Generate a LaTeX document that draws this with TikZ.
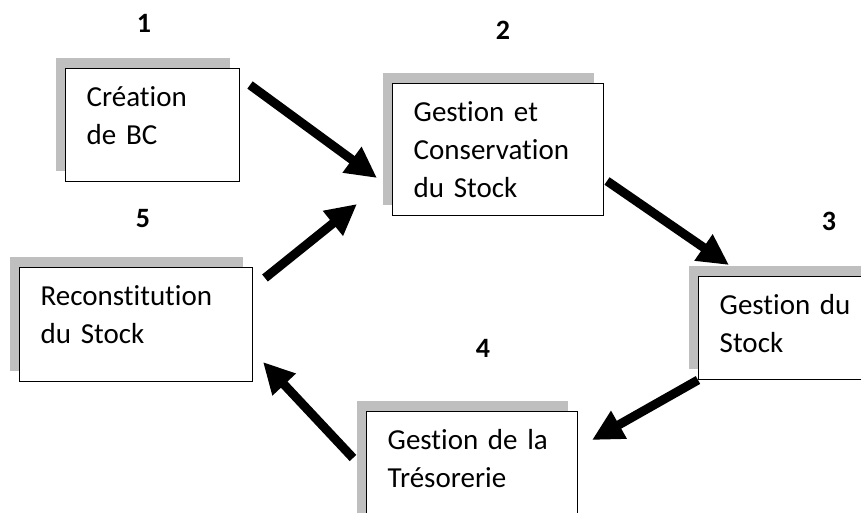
\documentclass[tikz,border=0pt]{standalone}
\usepackage{fontspec}
\setmainfont{Carlito}[Ligatures={NoCommon}]
\usetikzlibrary{arrows.meta,positioning,calc,shadows}
\definecolor{shadowgray}{RGB}{191,191,191}

\begin{document}
\begin{tikzpicture}[x=1pt,y=-1pt,
    box/.style={draw,rectangle,fill=white,line width=1.4pt,anchor=north west,
      align=left,inner xsep=21pt,inner ysep=0pt,text height=38pt,
      font=\fontsize{29}{38}\selectfont,
      drop shadow={shadow xshift=-10pt,shadow yshift=11pt,fill=shadowgray,opacity=1}},
    num/.style={anchor=base,font=\fontsize{28}{30}\selectfont\bfseries},
    flow/.style={line width=9pt,-{Triangle[length=31pt,width=30pt]}}]
      \useasboundingbox (0,0) rectangle (861,513);

      \node[box,text width=132pt,text depth=75pt] (b1) at (65,68) {Création\\de BC};
      \node[box,text width=169pt,text depth=94pt] (b2) at (392,83) {Gestion et\\Conservation\\du Stock};
      \node[box,text width=140pt,text depth=65pt] (b3) at (698,276) {Gestion du\\Stock};
      \node[box,text width=169pt,text depth=76pt] (b4) at (366,411) {Gestion de la\\Trésorerie};
      \node[box,text width=191pt,text depth=76pt] (b5) at (19,267) {Reconstitution\\du Stock};

      \node[num] (n1) at (144,33) {1};
      \node[num] (n2) at (503,40) {2};
      \node[num] (n3) at (829,230) {3};
      \node[num] (n4) at (483,357) {4};
      \node[num] (n5) at (143,227) {5};

      \coordinate (o1) at (250,85);
      \coordinate (i2a) at (377,178);
      \coordinate (o5) at (265,278);
      \coordinate (i2b) at (357,204);
      \coordinate (o2) at (607,181);
      \coordinate (i3) at (729,265);
      \coordinate (o3) at (698,380);
      \coordinate (i4) at (592,440);
      \coordinate (o4) at (353,458);
      \coordinate (i5) at (263,362);

      \draw[flow] (o1)--(i2a);
      \draw[flow] (o5)--(i2b);
      \draw[flow] (o2)--(i3);
      \draw[flow] (o3)--(i4);
      \draw[flow] (o4)--(i5);
    \end{tikzpicture}
\end{document}
